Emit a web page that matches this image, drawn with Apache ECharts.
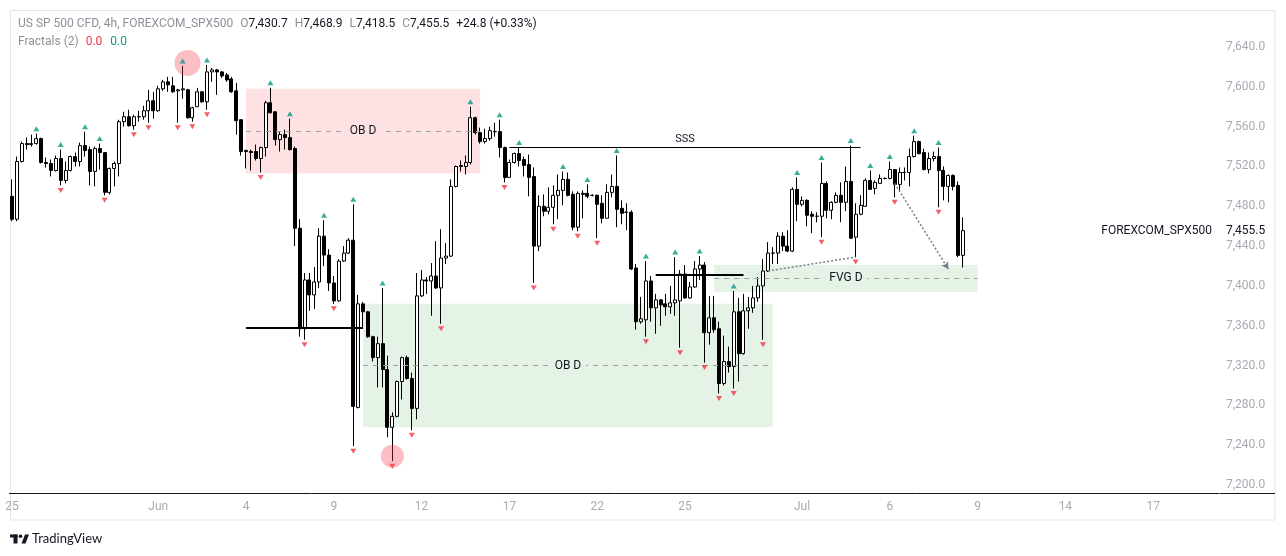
<!DOCTYPE html>
<html><head><meta charset="utf-8">
<script src="https://cdn.jsdelivr.net/npm/echarts@6/dist/echarts.min.js"></script>
<style>html,body{margin:0;padding:0;background:#fff}#c{width:1286px;height:556px}</style>
</head><body><div id="c"></div>
<script>
// ---- candle data (4h, US SP 500 CFD) ----
const opens = [
7490,7467,7525,7543,7542,7543,7548,7524,7523,7516,
7528,7506,7516,7530,7525,7541,7537,7515,7538,7534,
7494,7518,7523,7565,7570,7561,7570,7570,7576,7586,
7576,7598,7605,7601,7596,7597,7597,7569,7580,7595,
7585,7615,7617,7615,7612,7608,7596,7567,7536,7535,
7535,7528,7539,7584,7575,7547,7552,7549,7538,7458,
7357,7406,7391,7404,7450,7431,7403,7385,7425,7433,
7446,7278,7382,7374,7349,7328,7342,7316,7258,7269,
7304,7328,7307,7277,7390,7406,7405,7410,7398,7428,
7430,7500,7521,7520,7524,7569,7554,7545,7548,7555,
7555,7539,7509,7524,7533,7527,7522,7510,7440,7480,
7475,7479,7491,7496,7507,7492,7459,7493,7493,7491,
7491,7483,7468,7494,7500,7478,7474,7474,7418,7364,
7366,7405,7378,7386,7382,7379,7383,7385,7412,7388,
7399,7417,7421,7353,7368,7357,7302,7324,7319,7374,
7332,7375,7378,7388,7400,7415,7433,7433,7450,7440,
7435,7497,7482,7486,7472,7470,7470,7503,7476,7484,
7491,7484,7505,7449,7472,7480,7506,7498,7503,7508,
7508,7517,7502,7514,7514,7530,7545,7534,7517,7528,
7530,7516,7500,7511,7501,7430.7];
const highs = [
7507,7530,7545,7549,7552,7553,7549,7529,7527,7531,
7537,7525,7531,7534,7544,7555,7540,7540,7543,7534,
7519,7525,7567,7575,7577,7572,7576,7581,7597,7595,
7601,7607,7610,7610,7598,7621,7598,7580,7599,7596,
7622,7619,7618,7616,7614,7610,7604,7567,7537,7537,
7542,7540,7586,7599,7575,7555,7557,7568,7540,7467,
7413,7413,7419,7458,7466,7437,7410,7427,7440,7448,
7482,7391,7384,7375,7350,7349,7398,7330,7273,7305,
7329,7330,7313,7413,7416,7409,7423,7445,7457,7443,
7507,7521,7526,7531,7580,7570,7559,7558,7560,7564,
7567,7540,7527,7534,7539,7530,7532,7519,7491,7492,
7499,7501,7512,7515,7514,7495,7495,7496,7502,7492,
7492,7491,7502,7512,7531,7486,7483,7476,7422,7389,
7425,7410,7392,7387,7392,7400,7429,7416,7421,7404,
7425,7430,7424,7390,7390,7364,7350,7339,7395,7388,
7392,7389,7400,7409,7427,7444,7439,7454,7454,7456,
7499,7509,7490,7487,7475,7474,7524,7505,7485,7494,
7504,7520,7541,7483,7491,7508,7516,7506,7512,7509,
7525,7517,7519,7519,7538,7551,7546,7538,7534,7535,
7539,7520,7512,7512,7505,7468.9];
const lows = [
7465,7465,7524,7537,7540,7542,7523,7519,7510,7515,
7501,7503,7515,7520,7520,7530,7501,7500,7517,7491,
7492,7500,7510,7560,7560,7557,7565,7567,7564,7568,
7575,7596,7595,7594,7564,7588,7568,7565,7580,7584,
7577,7605,7592,7609,7605,7594,7552,7531,7518,7516,
7526,7514,7530,7573,7541,7535,7537,7536,7440,7349,
7346,7375,7377,7398,7420,7395,7382,7384,7424,7432,
7239,7277,7357,7348,7324,7298,7298,7248,7224,7268,
7286,7306,7255,7266,7389,7392,7370,7397,7362,7422,
7429,7499,7515,7512,7522,7552,7543,7543,7546,7550,
7529,7504,7509,7523,7520,7510,7490,7403,7435,7470,
7472,7462,7467,7481,7490,7456,7455,7468,7488,7490,
7448,7463,7468,7489,7459,7462,7456,7416,7356,7362,
7349,7364,7352,7360,7370,7372,7370,7338,7387,7387,
7398,7406,7323,7341,7353,7292,7300,7313,7297,7304,
7331,7357,7373,7384,7346,7414,7422,7422,7435,7434,
7434,7465,7480,7460,7453,7464,7449,7468,7467,7483,
7464,7475,7447,7429,7471,7480,7497,7492,7503,7507,
7507,7489,7495,7506,7500,7529,7532,7516,7513,7525,
7479,7486,7484,7496,7429,7418.5];
const closes = [
7467,7525,7543,7542,7543,7548,7524,7523,7516,7528,
7506,7516,7530,7525,7541,7536,7515,7538,7534,7494,
7518,7523,7565,7570,7561,7570,7570,7576,7586,7576,
7598,7605,7602,7595,7597,7598,7569,7579,7595,7585,
7615,7617,7615,7611,7607,7595,7566,7535,7535,7534,
7528,7539,7584,7574,7547,7552,7549,7537,7458,7357,
7406,7391,7404,7450,7431,7403,7385,7425,7433,7446,
7279,7382,7374,7349,7328,7342,7316,7258,7269,7304,
7328,7307,7277,7390,7406,7405,7410,7398,7428,7430,
7500,7520,7520,7524,7569,7554,7545,7548,7556,7555,
7539,7509,7524,7533,7526,7521,7509,7440,7480,7475,
7479,7491,7496,7507,7491,7459,7493,7492,7490,7491,
7482,7468,7494,7500,7477,7473,7474,7417,7364,7367,
7405,7378,7386,7381,7379,7383,7386,7412,7388,7399,
7417,7421,7353,7368,7356,7302,7324,7319,7374,7332,
7375,7378,7388,7400,7415,7433,7433,7450,7440,7435,
7497,7482,7486,7471,7470,7470,7503,7476,7484,7491,
7484,7505,7448,7472,7481,7506,7497,7504,7508,7508,
7517,7502,7514,7514,7530,7545,7533,7517,7528,7530,
7516,7500,7511,7500,7430.7,7455.5];

// Fractals (2) marks: candle indices
const fractalUpIdx = [5,10,15,18,35,40,53,57,64,70,76,94,100,104,113,118,124,130,136,141,148,161,166,172,176,180,185,190];
const fractalDownIdx = [10,19,25,28,34,37,40,51,60,66,70,78,82,88,101,107,111,116,120,130,137,142,145,148,154,166,173,181,190];

// time axis tick labels (candle slot index -> text)
const tickIdx = [0,30,48,66,84,102,120,138,162,180,198,216,234];
const tickText = ['25','Jun','4','9','12','17','22','25','Jul','6','9','14','17'];
const slotCount = 248;

// highlighted swing points
const highlightTop = [[36, 7624]];
const highlightBottom = [[78, 7229]];

// zones: [fromIdx, toIdx, top, bottom]
const obSupply = [48, 96, 7598, 7513];
const obDemand = [72, 156, 7382, 7258];
const fvgZone = [144, 198, 7421, 7394];
// structure lines: [fromIdx, toIdx, price]
const breakLines = [[48, 72, 7358], [132, 150, 7411]];
const sssLine = [102, 174, 7539];
const dottedLink = [[155, 7415], [173, 7429]];
const dottedArrow = [[181, 7503], [192, 7417]];

// ---- build ----
const fmt = v => v.toLocaleString('en-US', {minimumFractionDigits: 1, maximumFractionDigits: 1});
const categories = Array.from({length: slotCount}, (_, i) => String(i));
const candleData = opens.map((o, i) => [o, closes[i], lows[i], highs[i]]);
const last = opens.length - 1;
const chg = closes[last] - closes[last - 1];
const pct = chg / closes[last - 1] * 100;
const sign = chg >= 0 ? '+' : '-';
const header = '{g|US SP 500 CFD, 4h, FOREXCOM_SPX500}' +
  '{k|O}{v|' + fmt(opens[last]) + '}' +
  '{k|H}{v|' + fmt(highs[last]) + '}' +
  '{k|L}{v|' + fmt(lows[last]) + '}' +
  '{k|C}{v|' + fmt(closes[last]) + '}' +
  '{s|' + sign + Math.abs(chg).toFixed(1) + ' (' + sign + Math.abs(pct).toFixed(2) + '%)}';

const FONT = 'Roboto, "Noto Sans", sans-serif';
const zoneMid = z => (z[2] + z[3]) / 2;
const zoneLabel = (text, bg) => ({show: true, position: 'insideMiddle', formatter: text,
  backgroundColor: bg, padding: [1, 5], color: '#131722', fontSize: 12, fontFamily: FONT});
const rt = (color, pad) => ({color: color, fontSize: 12, fontWeight: 'normal', fontFamily: FONT, padding: pad || [0, 0, 0, 0]});
const hiddenLine = {color: 'rgba(0,0,0,0)', width: 0, opacity: 1};

const chart = echarts.init(document.getElementById('c'), null, {renderer: 'canvas'});
chart.setOption({
  animation: false,
  backgroundColor: '#ffffff',
  textStyle: {fontFamily: FONT},
  title: [
    {left: 18, top: 18, padding: 0, text: header, textStyle: {fontSize: 12, fontWeight: 'normal', fontFamily: FONT, rich: {
      g: rt('#8d9099'),
      k: rt('#8d9099', [0, 0, 0, 7]),
      v: rt('#131722'),
      s: rt('#131722', [0, 0, 0, 7])
    }}},
    {left: 18, top: 36, padding: 0, text: '{g|Fractals (2)}{r|0.0}{t|0.0}', textStyle: {fontSize: 12, fontWeight: 'normal', fontFamily: FONT, rich: {
      g: rt('#8d9099'),
      r: rt('#f23645', [0, 0, 0, 7]),
      t: rt('#089981', [0, 0, 0, 8])
    }}}
  ],
  grid: {left: 9.5, top: 10, width: 1209.5, height: 483},
  xAxis: {
    type: 'category', data: categories, boundaryGap: true,
    axisLine: {lineStyle: {color: '#131722', width: 1}},
    axisTick: {show: false},
    splitLine: {show: false},
    axisLabel: {
      interval: (i) => tickIdx.indexOf(i) >= 0,
      formatter: (v, i) => { const k = tickIdx.indexOf(i); return k >= 0 ? tickText[k] : ''; },
      color: '#a8abb3', fontSize: 12, margin: 8, fontFamily: FONT
    }
  },
  yAxis: {
    type: 'value', position: 'right', min: 7192, max: 7677.2, interval: 8, scale: true,
    axisLine: {show: false}, axisTick: {show: false}, splitLine: {show: false},
    axisLabel: {
      margin: 7, color: '#a8abb3', fontSize: 12, fontFamily: FONT,
      formatter: v => { const r = Math.round(v); return (Math.abs(v - r) < 0.01 && r % 40 === 0) ? fmt(r) : ''; }
    }
  },
  series: [
    {
      name: 'zones', type: 'line', data: [], z: 1, clip: false, silent: true,
      markArea: {silent: true, data: [
        [{xAxis: obSupply[0], yAxis: obSupply[2], itemStyle: {color: 'rgba(242,54,69,0.15)'}}, {xAxis: obSupply[1], yAxis: obSupply[3]}],
        [{xAxis: obDemand[0], yAxis: obDemand[2], itemStyle: {color: 'rgba(76,175,80,0.15)'}}, {xAxis: obDemand[1], yAxis: obDemand[3]}],
        [{xAxis: fvgZone[0], yAxis: fvgZone[2], itemStyle: {color: 'rgba(76,175,80,0.15)'}}, {xAxis: fvgZone[1], yAxis: fvgZone[3]}]
      ]},
      markLine: {silent: true, symbol: 'none', label: {show: false},
        lineStyle: {type: [5, 5], color: '#9e9e9e', width: 1},
        data: [
          [{coord: [obSupply[0], zoneMid(obSupply)], label: zoneLabel('OB D', '#fde1e3')}, {coord: [obSupply[1], zoneMid(obSupply)]}],
          [{coord: [obDemand[0], zoneMid(obDemand)], label: zoneLabel('OB D', '#e4f3e5')}, {coord: [obDemand[1], zoneMid(obDemand)]}],
          [{coord: [fvgZone[0], zoneMid(fvgZone)], label: zoneLabel('FVG D', '#e4f3e5')}, {coord: [fvgZone[1], zoneMid(fvgZone)]}]
        ]}
    },
    {
      name: 'SPX500', type: 'candlestick', data: candleData, z: 2, barWidth: 3.5, clip: false,
      itemStyle: {color: '#ffffff', color0: '#000000', borderColor: '#000000', borderColor0: '#000000', borderWidth: 1},
      markLine: {silent: true, symbol: 'none', animation: false,
        data: [
          {yAxis: closes[last], lineStyle: hiddenLine,
            label: {show: true, opacity: 1, position: 'end', distance: 7, formatter: fmt(closes[last]), color: '#131722', fontSize: 12, fontFamily: FONT}},
          {yAxis: closes[last], lineStyle: hiddenLine,
            label: {show: true, opacity: 1, position: 'insideEnd', distance: 7, formatter: 'FOREXCOM_SPX500', color: '#131722', fontSize: 12, fontFamily: FONT}}
        ]}
    },
    {
      name: 'annotations', type: 'line', data: [], z: 3, clip: false, silent: true,
      markLine: {silent: true, symbol: 'none', label: {show: false},
        data: [
          [{coord: [breakLines[0][0], breakLines[0][2]], lineStyle: {color: '#000000', width: 2, type: 'solid'}}, {coord: [breakLines[0][1], breakLines[0][2]]}],
          [{coord: [breakLines[1][0], breakLines[1][2]], lineStyle: {color: '#000000', width: 2, type: 'solid'}}, {coord: [breakLines[1][1], breakLines[1][2]]}],
          [{coord: [sssLine[0], sssLine[2]], lineStyle: {color: '#000000', width: 1, type: 'solid'},
            label: {show: true, position: 'middle', distance: 3, formatter: 'SSS', color: '#131722', fontSize: 11, fontFamily: FONT}},
           {coord: [sssLine[1], sssLine[2]]}],
          [{coord: dottedLink[0], lineStyle: {color: '#787b86', width: 1.5, type: [2, 2]}}, {coord: dottedLink[1]}],
          [{coord: dottedArrow[0], symbol: 'none', lineStyle: {color: '#787b86', width: 1.5, type: [2, 2]}},
           {coord: dottedArrow[1], symbol: 'arrow', symbolSize: [6, 7]}]
        ]}
    },
    {
      name: 'hiA', type: 'scatter', data: highlightTop, z: 4, silent: true, clip: false,
      symbol: 'circle', symbolSize: 26, itemStyle: {color: 'rgba(242,54,69,0.4)'}
    },
    {
      name: 'hiB', type: 'scatter', data: highlightBottom, z: 4, silent: true, clip: false,
      symbol: 'circle', symbolSize: 23, itemStyle: {color: 'rgba(242,54,69,0.4)'}
    },
    {
      name: 'fractalUp', type: 'scatter', z: 5, silent: true, clip: false,
      data: fractalUpIdx.map(i => [i, highs[i]]),
      symbol: 'triangle', symbolSize: [6, 5], symbolOffset: [0, -5], itemStyle: {color: '#089981'}
    },
    {
      name: 'fractalDown', type: 'scatter', z: 5, silent: true, clip: false,
      data: fractalDownIdx.map(i => [i, lows[i]]),
      symbol: 'triangle', symbolSize: [6, 5], symbolRotate: 180, symbolOffset: [0, 5], itemStyle: {color: '#f23645'}
    }
  ],
  graphic: [
    {type: 'rect', silent: true, z: -1, shape: {x: 10.5, y: 10.5, width: 1264.5, height: 509.5},
      style: {fill: 'none', stroke: '#e0e3eb', lineWidth: 1}},
    {type: 'line', silent: true, shape: {x1: 1220, y1: 493.5, x2: 1275, y2: 493.5},
      style: {stroke: '#131722', lineWidth: 1}},
    {type: 'group', left: 10, top: 532, silent: true, children: [
      {type: 'rect', shape: {x: 0, y: 0, width: 7.5, height: 3}, style: {fill: '#131722'}},
      {type: 'rect', shape: {x: 3.5, y: 0, width: 4, height: 9}, style: {fill: '#131722'}},
      {type: 'circle', shape: {cx: 10.5, cy: 1.8, r: 1.8}, style: {fill: '#131722'}},
      {type: 'polygon', shape: {points: [[11.5, 9], [15, 0], [19, 0], [15.5, 9]]}, style: {fill: '#131722'}},
      {type: 'text', x: 22, y: -2.5, style: {text: 'TradingView', fontSize: 13, fontFamily: 'Lato, "Noto Sans", sans-serif', fill: '#131722'}}
    ]}
  ]
});
</script>
</body></html>
